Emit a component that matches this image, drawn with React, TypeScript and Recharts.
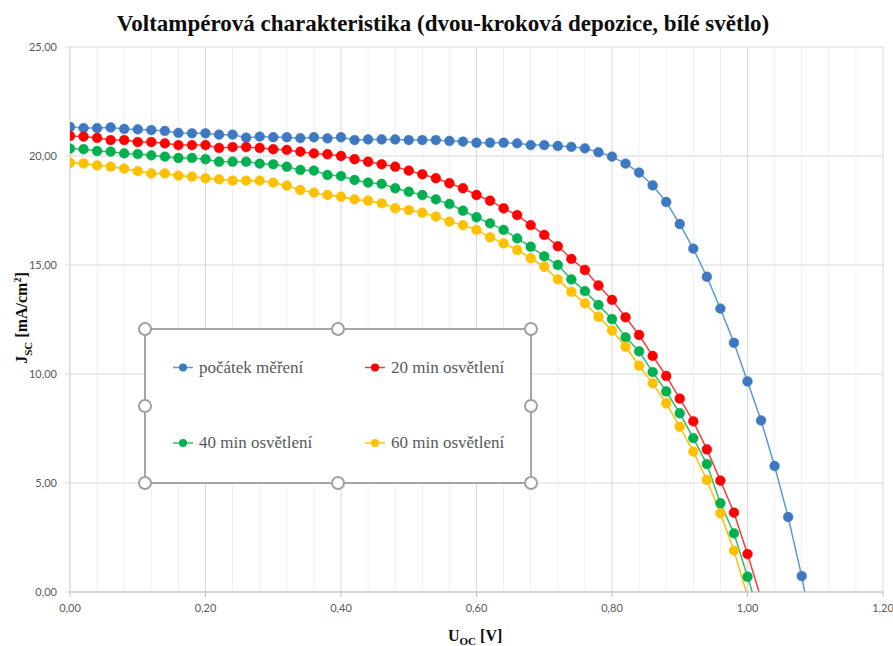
import { LineChart, Line, XAxis, YAxis, CartesianGrid, ReferenceLine } from "recharts"

// napětí [V], krok 0,02
const voltage = [
  0, 0.02, 0.04, 0.06, 0.08, 0.1, 0.12, 0.14, 0.16, 0.18, 0.2, 0.22, 0.24, 0.26, 0.28, 0.3, 0.32, 0.34, 0.36,
  0.38, 0.4, 0.42, 0.44, 0.46, 0.48, 0.5, 0.52, 0.54, 0.56, 0.58, 0.6, 0.62, 0.64, 0.66, 0.68, 0.7, 0.72, 0.74,
  0.76, 0.78, 0.8, 0.82, 0.84, 0.86, 0.88, 0.9, 0.92, 0.94, 0.96, 0.98, 1.0, 1.02, 1.04, 1.06, 1.08, 1.1,
]

// proudová hustota [mA/cm2]
const startMeasurement = [
  21.33, 21.28, 21.28, 21.31, 21.24, 21.22, 21.19, 21.15, 21.06, 21.04, 21.04, 20.98, 20.98, 20.84, 20.89, 20.86,
  20.86, 20.82, 20.86, 20.81, 20.86, 20.73, 20.76, 20.76, 20.76, 20.73, 20.73, 20.73, 20.69, 20.66, 20.61, 20.61,
  20.61, 20.58, 20.5, 20.5, 20.46, 20.42, 20.35, 20.17, 19.97, 19.65, 19.24, 18.65, 17.89, 16.88, 15.75, 14.46,
  13.0, 11.43, 9.66, 7.87, 5.78, 3.44, 0.73, -2.5,
]
const light20 = [
  20.92, 20.89, 20.83, 20.73, 20.73, 20.64, 20.64, 20.58, 20.5, 20.5, 20.5, 20.37, 20.41, 20.41, 20.37, 20.31,
  20.28, 20.2, 20.12, 20.08, 20.0, 19.85, 19.74, 19.62, 19.51, 19.33, 19.16, 18.98, 18.75, 18.52, 18.21, 17.95,
  17.6, 17.29, 16.83, 16.38, 15.86, 15.28, 14.77, 14.06, 13.4, 12.6, 11.79, 10.83, 9.91, 8.87, 7.83, 6.54, 5.11,
  3.64, 1.74, -0.3,
]
const light40 = [
  20.34, 20.31, 20.23, 20.2, 20.12, 20.09, 20.03, 19.97, 19.91, 19.91, 19.85, 19.74, 19.74, 19.74, 19.65, 19.62,
  19.51, 19.36, 19.33, 19.13, 19.08, 18.9, 18.78, 18.72, 18.52, 18.36, 18.21, 18.01, 17.8, 17.49, 17.19, 16.91,
  16.61, 16.22, 15.84, 15.4, 15.0, 14.34, 13.8, 13.17, 12.52, 11.68, 11.04, 10.09, 9.2, 8.2, 7.06, 5.87, 4.07,
  2.69, 0.7, -1.3,
]
const light60 = [
  19.69, 19.66, 19.57, 19.51, 19.42, 19.31, 19.2, 19.2, 19.1, 19.05, 18.98, 18.93, 18.87, 18.87, 18.87, 18.78,
  18.64, 18.44, 18.32, 18.21, 18.13, 18.01, 17.95, 17.83, 17.6, 17.52, 17.4, 17.22, 16.99, 16.83, 16.61, 16.27,
  15.99, 15.69, 15.31, 14.92, 14.34, 13.77, 13.24, 12.63, 11.99, 11.25, 10.38, 9.57, 8.66, 7.58, 6.44, 5.14, 3.61,
  1.9, -0.2,
]

const xTicks = [0, 0.2, 0.4, 0.6, 0.8, 1.0, 1.2]
const xMinor = [
  0.04, 0.08, 0.12, 0.16, 0.24, 0.28, 0.32, 0.36, 0.44, 0.48, 0.52, 0.56, 0.64, 0.68, 0.72, 0.76, 0.84, 0.88, 0.92,
  0.96, 1.04, 1.08, 1.12, 1.16,
]
const yTicks = [0, 5, 10, 15, 20, 25]

const toRows = (values: number[]) => values.map((j, i) => ({ u: voltage[i], j }))

const series = [
  { name: "počátek měření", dot: "#3f78c2", line: "#5b9bd5", data: toRows(startMeasurement) },
  { name: "20 min osvětlení", dot: "#ff0000", line: "#ff3b3b", data: toRows(light20) },
  { name: "40 min osvětlení", dot: "#00b050", line: "#2fbf6a", data: toRows(light40) },
  { name: "60 min osvětlení", dot: "#ffc000", line: "#ffc000", data: toRows(light60) },
]

const fmt = (v: number) => v.toFixed(2).replace(".", ",")

const tickStyle = { fill: "#595959", fontSize: 11, fontFamily: "Lato" }
const serif = '"Liberation Serif", "DejaVu Serif", serif'

const renderDot = (color: string) => (props: any) => {
  const { cx, cy, payload, index } = props
  if (cx == null || cy == null || payload.j < 0) return <g key={`d-${index}`} />
  return <circle key={`d-${index}`} cx={cx} cy={cy} r={4.9} fill={color} stroke={color} strokeWidth={0.5} />
}

// legenda (vybraná v Excelu - s úchyty)
const legendBox = { left: 145, top: 329, width: 386, height: 154 }

function LegendBox() {
  const { left, top, width, height } = legendBox
  const handles = [
    [0, 0], [0.5, 0], [1, 0],
    [0, 0.5], [1, 0.5],
    [0, 1], [0.5, 1], [1, 1],
  ]
  const cols = [28, 220]
  const rows = [38.5, 114]
  return (
    <div style={{ position: "absolute", left: left - 8, top: top - 8, width: width + 16, height: height + 16 }}>
      <svg width={width + 16} height={height + 16} style={{ position: "absolute", left: 0, top: 0 }}>
        <rect x={8} y={8} width={width} height={height} fill="#ffffff" stroke="#a6a6a6" strokeWidth={2} />
        {handles.map(([fx, fy], i) => (
          <circle key={i} cx={8 + fx * width} cy={8 + fy * height} r={6} fill="#ffffff" stroke="#a0a0a0" strokeWidth={2} />
        ))}
        {series.map((s, i) => {
          const cx = 8 + cols[i % 2] + 10
          const cy = 8 + rows[Math.floor(i / 2)]
          return (
            <g key={s.name}>
              <line x1={cx - 10} x2={cx + 10} y1={cy} y2={cy} stroke={s.line} strokeWidth={1.5} />
              <circle cx={cx} cy={cy} r={4} fill={s.dot} />
            </g>
          )
        })}
      </svg>
      {series.map((s, i) => (
        <div
          key={s.name}
          style={{
            position: "absolute",
            left: 8 + cols[i % 2] + 26,
            top: 8 + rows[Math.floor(i / 2)] - 10,
            height: 20,
            lineHeight: "20px",
            fontFamily: serif,
            fontSize: 17,
            color: "#595959",
            whiteSpace: "nowrap",
          }}
        >
          {s.name}
        </div>
      ))}
    </div>
  )
}

export default function App() {
  return (
    <div style={{ position: "absolute", left: 0, top: 0, width: 893, height: 646, background: "#ffffff" }}>
      <div
        style={{
          position: "absolute",
          left: 0,
          top: 11,
          width: 886,
          textAlign: "center",
          fontFamily: serif,
          fontWeight: "bold",
          fontSize: 23,
          lineHeight: "26px",
          color: "#0d0d0d",
        }}
      >
        Voltampérová charakteristika (dvou-kroková depozice, bílé světlo)
      </div>

      <LineChart width={893} height={646} margin={{ top: 47, right: 10, bottom: 24, left: 10 }}>
        <CartesianGrid stroke="#d9d9d9" strokeWidth={1} />
        {xMinor.map((x) => (
          <ReferenceLine key={x} x={x} stroke="#efefef" strokeWidth={1} />
        ))}
        <XAxis
          dataKey="u"
          type="number"
          domain={[0, 1.2]}
          ticks={xTicks}
          tickFormatter={fmt}
          tick={tickStyle}
          tickSize={5}
          tickMargin={7}
          stroke="#bfbfbf"
          height={30}
          allowDataOverflow
        />
        <YAxis
          type="number"
          domain={[0, 25]}
          ticks={yTicks}
          tickFormatter={fmt}
          tick={tickStyle}
          tickSize={5}
          tickMargin={8}
          stroke="#d9d9d9"
          width={60}
          allowDataOverflow
        />
        {series.map((s) => (
          <Line
            key={s.name}
            data={s.data}
            dataKey="j"
            name={s.name}
            type="linear"
            stroke={s.line}
            strokeWidth={1.5}
            dot={renderDot(s.dot)}
            activeDot={false}
            isAnimationActive={false}
          />
        ))}
      </LineChart>

      <LegendBox />

      <div
        style={{
          position: "absolute",
          left: 18 - 100,
          top: 318 - 12,
          width: 200,
          height: 24,
          lineHeight: "24px",
          textAlign: "center",
          transform: "rotate(-90deg)",
          fontFamily: serif,
          fontWeight: "bold",
          fontSize: 16,
          color: "#0d0d0d",
          whiteSpace: "nowrap",
        }}
      >
        J<sub style={{ fontSize: 11 }}>SC</sub> [mA/cm<sup style={{ fontSize: 10 }}>2</sup>]
      </div>

      <div
        style={{
          position: "absolute",
          left: 448,
          top: 625,
          lineHeight: "22px",
          fontFamily: serif,
          fontWeight: "bold",
          fontSize: 16,
          color: "#0d0d0d",
          whiteSpace: "nowrap",
        }}
      >
        U<sub style={{ fontSize: 11 }}>OC</sub> [V]
      </div>
    </div>
  )
}
